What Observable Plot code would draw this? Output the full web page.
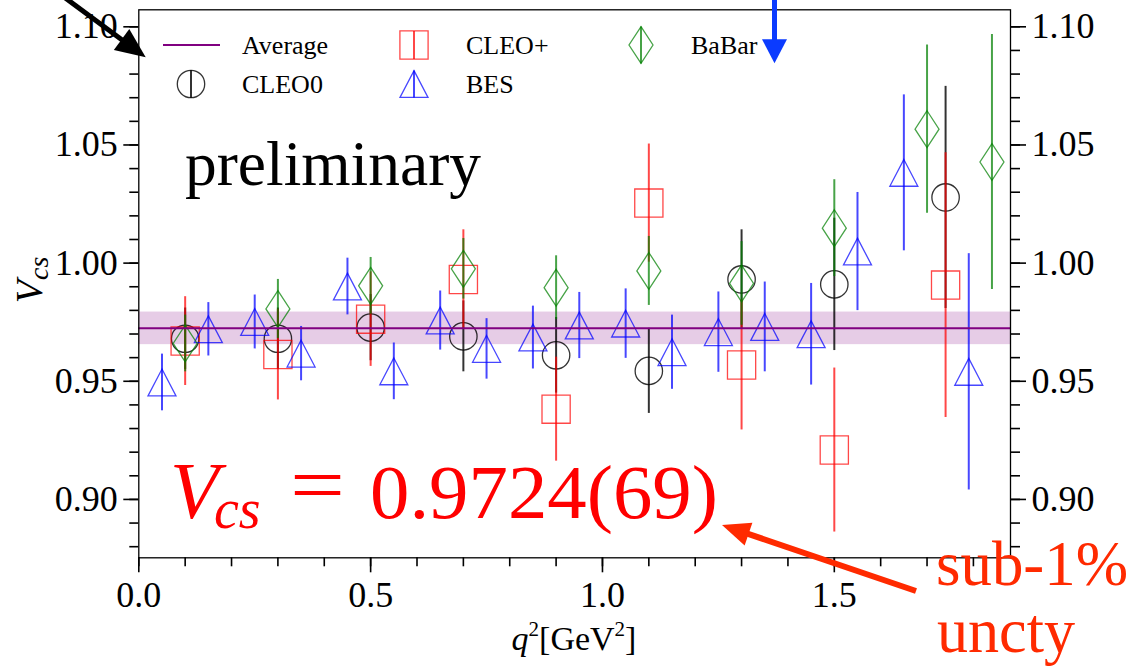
<!DOCTYPE html>
<html><head><meta charset="utf-8">
<script src="https://cdn.jsdelivr.net/npm/d3@7"></script>
<script src="https://cdn.jsdelivr.net/npm/@observablehq/plot@0.6"></script>
<style>
html,body{margin:0;padding:0;background:#fff;}
#chart{position:relative;width:1134px;height:666px;overflow:hidden;}
svg{overflow:visible;}
</style></head><body><div id="chart"></div>
<script>
// ---- data ----
const avgValue = 0.9724;
const avgError = 0.0069;

const cleo0X = [0.1, 0.3, 0.5, 0.7, 0.9, 1.1, 1.3, 1.5, 1.74];
const cleo0V = [0.968, 0.968, 0.9727, 0.969, 0.961, 0.9544, 0.9931, 0.991, 1.0278];
const cleo0E = [0.013, 0.013, 0.014, 0.015, 0.016, 0.018, 0.021, 0.028, 0.047];

const cleoPX = [0.1, 0.3, 0.5, 0.7, 0.9, 1.1, 1.3, 1.5, 1.74];
const cleoPV = [0.967, 0.9613, 0.9763, 0.9931, 0.9382, 1.0254, 0.9569, 0.9209, 0.9907];
const cleoPE = [0.0188, 0.0192, 0.020, 0.021, 0.022, 0.025, 0.0275, 0.0347, 0.056];

const besX = [0.05, 0.15, 0.25, 0.35, 0.45, 0.55, 0.65, 0.75, 0.85, 0.95, 1.05, 1.15, 1.25, 1.35, 1.45, 1.55, 1.65, 1.79];
const besV = [0.9495, 0.972, 0.9751, 0.9617, 0.9901, 0.9542, 0.9757, 0.9637, 0.9685, 0.9736, 0.9744, 0.9623, 0.9708, 0.973, 0.9699, 1.0049, 1.0382, 0.954];
const besE = [0.012, 0.0113, 0.0114, 0.0115, 0.012, 0.012, 0.0125, 0.0128, 0.0133, 0.014, 0.0147, 0.0157, 0.017, 0.019, 0.0215, 0.025, 0.033, 0.050];

const babarX = [0.1, 0.3, 0.5, 0.7, 0.9, 1.1, 1.3, 1.5, 1.70, 1.84];
const babarV = [0.966, 0.9806, 0.9904, 0.9976, 0.9896, 0.9967, 0.9914, 1.0148, 1.0567, 1.0428];
const babarE = [0.012, 0.0125, 0.012, 0.0128, 0.0135, 0.0146, 0.0177, 0.0205, 0.0356, 0.054];

const seriesNames = ["Average", "CLEO0", "CLEO+", "BES", "BaBar"];
const xMajor = [0.0, 0.5, 1.0, 1.5];
const xMinor = d3.range(0, 19).map(d => d / 10);
const yMajor = [0.90, 0.95, 1.00, 1.05, 1.10];
const yMinor = d3.range(88, 111).map(d => d / 100);
const xDomain = [0, 1.88];
const yDomain = [0.8753, 1.1072];

// ---- symbols (matplotlib-like markers) ----
const R0 = 14;
function sym(fn) { return {draw(c, size) { const k = Math.sqrt(size / Math.PI) / R0; fn(c, k); }}; }
const circleSym = sym((c, k) => { const R = 13.7 * k; c.moveTo(R, 0); c.arc(0, 0, R, 0, 2 * Math.PI); c.closePath(); });
const squareSym = sym((c, k) => { const h = 14.1 * k; c.moveTo(-h, -h); c.lineTo(h, -h); c.lineTo(h, h); c.lineTo(-h, h); c.closePath(); });
const triSym = sym((c, k) => { const w = 14 * k, h = 13.4 * k; c.moveTo(0, -h); c.lineTo(w, h); c.lineTo(-w, h); c.closePath(); });
const diamSym = sym((c, k) => { const w = 12 * k, h = 18.4 * k; c.moveTo(0, -h); c.lineTo(w, 0); c.lineTo(0, h); c.lineTo(-w, 0); c.closePath(); });

const series = [
  {name: seriesNames[1], X: cleo0X, V: cleo0V, E: cleo0E, color: "#000000", op: 0.8, symbol: circleSym, half: 13.7},
  {name: seriesNames[2], X: cleoPX, V: cleoPV, E: cleoPE, color: "#ff0000", op: 0.72, symbol: squareSym, half: 14.1},
  {name: seriesNames[3], X: besX, V: besV, E: besE, color: "#0000ff", op: 0.72, symbol: triSym, half: 13.4},
  {name: seriesNames[4], X: babarX, V: babarV, E: babarE, color: "#008000", op: 0.72, symbol: diamSym, half: 18.4}
];

const marks = [
  Plot.rect([{lo: avgValue - avgError, hi: avgValue + avgError}], {y1: "lo", y2: "hi", fill: "purple", fillOpacity: 0.2})
];
for (const s of series) {
  const rows = s.X.map((x, i) => ({x, v: s.V[i], lo: s.V[i] - s.E[i], hi: s.V[i] + s.E[i]}));
  marks.push(Plot.ruleX(rows, {x: "x", y1: "lo", y2: "hi", stroke: s.color, strokeOpacity: s.op, strokeWidth: 2}));
  marks.push(Plot.dot(rows, {x: "x", y: "v", r: R0, symbol: s.symbol, stroke: s.color, strokeOpacity: s.op, strokeWidth: 1.3, fill: "none"}));
}
marks.push(Plot.ruleY([avgValue], {stroke: "#800080", strokeWidth: 2}));
const fmt2 = d => d.toFixed(2), fmt1 = d => d.toFixed(1), none = () => "";
marks.push(
  Plot.axisY(yMinor, {anchor: "left", tickSize: 9, tickFormat: none, label: null, strokeWidth: 1.6}),
  Plot.axisY(yMinor, {anchor: "right", tickSize: 9, tickFormat: none, label: null, strokeWidth: 1.6}),
  Plot.axisY(yMajor, {anchor: "left", tickSize: 15, tickPadding: 6, tickFormat: fmt2, label: null, strokeWidth: 1.6}),
  Plot.axisY(yMajor, {anchor: "right", tickSize: 15, tickPadding: 6, tickFormat: fmt2, label: null, strokeWidth: 1.6}),
  Plot.axisX(xMinor, {anchor: "bottom", tickSize: 9, tickFormat: none, label: null, strokeWidth: 1.6}),
  Plot.axisX(xMajor, {anchor: "bottom", tickSize: 15, tickPadding: 9, tickFormat: fmt1, label: null, strokeWidth: 1.6}),
  Plot.frame({stroke: "black", strokeWidth: 1.3})
);

const chart = Plot.plot({
  width: 1134, height: 666,
  marginLeft: 138.3, marginRight: 124, marginTop: 9.3, marginBottom: 108.7,
  x: {domain: xDomain},
  y: {domain: yDomain},
  style: {fontFamily: "'Liberation Serif', serif", fontSize: "36px", background: "white", color: "black"},
  marks
});
document.getElementById("chart").appendChild(chart);

// ---- annotations, legend, labels ----
const svg = d3.select(chart);
const g = svg.append("g").attr("font-family", "'Liberation Serif', serif").attr("text-anchor", "start");

// legend
const legend = [
  {name: seriesNames[0], mx: 191, my: 45, tx: 242},
  {name: seriesNames[1], mx: 191, my: 84, tx: 242, s: series[0]},
  {name: seriesNames[2], mx: 414, my: 45, tx: 466, s: series[1]},
  {name: seriesNames[3], mx: 414, my: 84, tx: 466, s: series[2]},
  {name: seriesNames[4], mx: 641, my: 45, tx: 691, s: series[3]}
];
for (const L of legend) {
  if (!L.s) {
    g.append("line").attr("x1", L.mx - 28).attr("x2", L.mx + 29).attr("y1", L.my).attr("y2", L.my)
      .attr("stroke", "#800080").attr("stroke-width", 2);
  } else {
    const p = d3.path(); L.s.symbol.draw(p, R0 * R0 * Math.PI);
    g.append("line").attr("x1", L.mx).attr("x2", L.mx).attr("y1", L.my - L.s.half).attr("y2", L.my + L.s.half)
      .attr("stroke", L.s.color).attr("stroke-opacity", L.s.op).attr("stroke-width", 2);
    g.append("path").attr("d", p.toString()).attr("transform", `translate(${L.mx},${L.my})`)
      .attr("fill", "none").attr("stroke", L.s.color).attr("stroke-opacity", L.s.op).attr("stroke-width", 1.3);
  }
  g.append("text").attr("x", L.tx).attr("y", L.my + 9).attr("font-size", 26).attr("fill", "black").text(L.name);
}

// y label
const yl = g.append("text").attr("transform", "translate(41.7,280) rotate(-90)").attr("text-anchor", "middle").attr("fill", "black");
yl.append("tspan").attr("font-style", "italic").attr("font-size", 38).text("V");
yl.append("tspan").attr("font-style", "italic").attr("font-size", 28).attr("dy", 6).text("cs");

// x label
const xl = g.append("text").attr("x", 574).attr("y", 650).attr("text-anchor", "middle").attr("font-size", 34).attr("fill", "black");
xl.append("tspan").attr("font-style", "italic").text("q");
xl.append("tspan").attr("font-size", 21).attr("dy", -14).text("2");
xl.append("tspan").attr("dy", 14).text("[GeV");
xl.append("tspan").attr("font-size", 21).attr("dy", -14).text("2");
xl.append("tspan").attr("dy", 14).text("]");

// preliminary
g.append("text").attr("x", 185).attr("y", 185).attr("font-size", 63).attr("fill", "black")
  .attr("textLength", 296).attr("lengthAdjust", "spacingAndGlyphs").text("preliminary");

// Vcs result (V with subscript cs)
const red = "#ff0000";
const vt = g.append("text").attr("x", 170).attr("y", 518).attr("font-style", "italic").attr("fill", red);
vt.append("tspan").attr("font-size", 80).text("V");
vt.append("tspan").attr("x", 214).attr("dy", 10).attr("font-size", 56).text("cs");
g.append("text").attr("x", 290).attr("y", 512).attr("font-size", 80).attr("fill", red)
  .attr("textLength", 55).attr("lengthAdjust", "spacingAndGlyphs").text("=");
g.append("text").attr("x", 370).attr("y", 518).attr("font-size", 77).attr("fill", red)
  .attr("textLength", 348).attr("lengthAdjust", "spacingAndGlyphs").text("0.9724(69)");

// sub-1% uncty
const orange = "#ff2a00";
g.append("text").attr("x", 936).attr("y", 585).attr("font-size", 64).attr("fill", orange)
  .attr("textLength", 192).attr("lengthAdjust", "spacingAndGlyphs").text("sub-1%");
g.append("text").attr("x", 937).attr("y", 652).attr("font-size", 64).attr("fill", orange)
  .attr("textLength", 138).attr("lengthAdjust", "spacingAndGlyphs").text("uncty");

// arrows
function arrow(x0, y0, x1, y1, color, w, headLen, headHalf) {
  const dx = x1 - x0, dy = y1 - y0, L = Math.hypot(dx, dy), ux = dx / L, uy = dy / L;
  const bx = x1 - ux * headLen, by = y1 - uy * headLen;
  g.append("line").attr("x1", x0).attr("y1", y0).attr("x2", bx + ux * 2).attr("y2", by + uy * 2)
    .attr("stroke", color).attr("stroke-width", w);
  g.append("path").attr("d", `M${x1},${y1}L${bx - uy * headHalf},${by + ux * headHalf}L${bx + uy * headHalf},${by - ux * headHalf}Z`)
    .attr("fill", color);
}
arrow(916, 591, 722, 525, orange, 6, 28, 12);
arrow(774.5, -5, 774.5, 63.3, "#0b3bff", 5, 24, 12.5);
arrow(45, -17, 145.7, 57.3, "#000000", 5, 30, 13);
</script></body></html>
